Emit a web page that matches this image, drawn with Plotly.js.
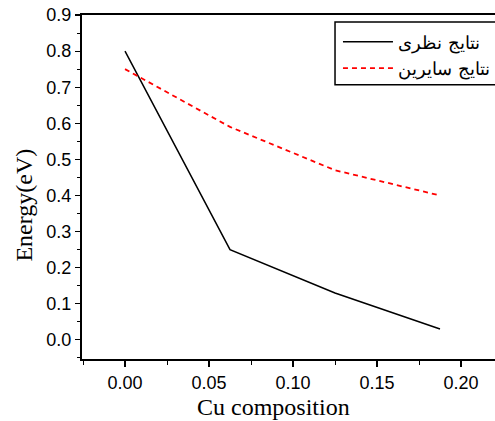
<!DOCTYPE html>
<html>
<head>
<meta charset="utf-8">
<script src="https://cdn.plot.ly/plotly-3.0.1.min.js"></script>
<style>html,body{margin:0;padding:0;overflow:hidden;background:#fff}</style>
</head>
<body>
<div id="chart" style="width:505px;height:421px"></div>
<script>
const composition = [0, 0.0625, 0.125, 0.1875];
const theoryEnergy = [0.80, 0.25, 0.13, 0.03];
const othersEnergy = [0.75, 0.59, 0.47, 0.40];
const seriesNames = ["نتایج نظری", "نتایج سایرین"];
const xTicks = [0, 0.05, 0.10, 0.15, 0.20];
const xTickLabels = ["0.00", "0.05", "0.10", "0.15", "0.20"];
const yTicks = [0, 0.1, 0.2, 0.3, 0.4, 0.5, 0.6, 0.7, 0.8, 0.9];
const yTickLabels = ["0.0", "0.1", "0.2", "0.3", "0.4", "0.5", "0.6", "0.7", "0.8", "0.9"];
const xTitle = "Cu composition";
const yTitle = "Energy(eV)";

const traces = [
  {x: composition, y: theoryEnergy, name: seriesNames[0], mode: "lines",
   line: {color: "#000000", width: 1.5}},
  {x: composition, y: othersEnergy, name: seriesNames[1], mode: "lines",
   line: {color: "#ff0000", width: 1.8, dash: "5px,4px"}}
];

const titleFont = {family: "Liberation Serif, Times New Roman, serif", size: 24, color: "#000"};

const layout = {
  width: 505, height: 421,
  margin: {l: 82, r: 2, t: 15, b: 62, autoexpand: false},
  paper_bgcolor: "#ffffff", plot_bgcolor: "#ffffff",
  showlegend: true,
  legend: {
    x: 0.608, xanchor: "left", y: 0.975, yanchor: "top",
    borderwidth: 0, bgcolor: "rgba(0,0,0,0)",
    font: {family: "DejaVu Serif, Liberation Serif, serif", size: 18, color: "#000"},
    itemwidth: 50, tracegroupgap: 0
  },
  shapes: [
    {type: "rect", xref: "paper", yref: "paper", x0: 0.601, x1: 1.05, y0: 0.797, y1: 0.980,
     line: {color: "#000", width: 1.5}, fillcolor: "rgba(0,0,0,0)", layer: "above"}
  ],
  xaxis: {
    range: [-0.0256, 0.2250],
    tickvals: xTicks, ticktext: xTickLabels,
    ticks: "outside", ticklen: 6, tickwidth: 1.2, tickcolor: "#000",
    minor: {dtick: 0.025, tick0: 0, ticks: "outside", ticklen: 4, tickwidth: 1, tickcolor: "#000"},
    showline: true, linecolor: "#000", linewidth: 2, mirror: true,
    showgrid: false, zeroline: false,
    tickfont: {family: "Liberation Sans, Arial, sans-serif", size: 18, color: "#000"}
  },
  yaxis: {
    range: [-0.053, 0.9],
    tickvals: yTicks, ticktext: yTickLabels,
    ticks: "outside", ticklen: 5, tickwidth: 1.2, tickcolor: "#000",
    minor: {dtick: 0.05, tick0: 0, ticks: "outside", ticklen: 3, tickwidth: 1, tickcolor: "#000"},
    showline: true, linecolor: "#000", linewidth: 2,
    showgrid: false, zeroline: false,
    tickfont: {family: "Liberation Sans, Arial, sans-serif", size: 18, color: "#000"}
  },
  annotations: [
    {text: xTitle, xref: "paper", yref: "paper", x: 0.454, y: 0,
     xanchor: "center", yanchor: "middle", yshift: -48, showarrow: false, font: titleFont},
    {text: yTitle, xref: "paper", yref: "paper", x: 0, y: 0.446, textangle: -90,
     xanchor: "center", yanchor: "middle", xshift: -58, showarrow: false, font: titleFont}
  ]
};

Plotly.newPlot("chart", traces, layout, {displayModeBar: false, staticPlot: true});
</script>
</body>
</html>
